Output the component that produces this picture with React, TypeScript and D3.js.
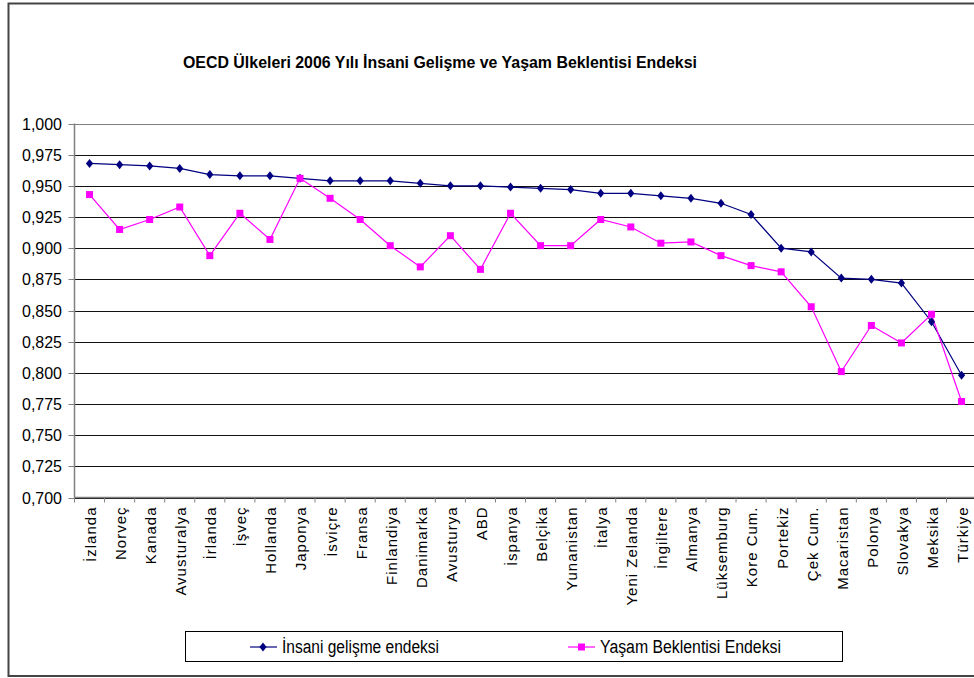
import React from "react";
import * as d3 from "d3";

const categories = [
  "İzlanda", "Norveç", "Kanada", "Avusturalya", "İrlanda", "İşveç", "Hollanda", "Japonya",
  "İsviçre", "Fransa", "Finlandiya", "Danimarka", "Avusturya", "ABD", "İspanya", "Belçika",
  "Yunanistan", "İtalya", "Yeni Zelanda", "İngiltere", "Almanya", "Lüksemburg", "Kore Cum.",
  "Portekiz", "Çek Cum.", "Macaristan", "Polonya", "Slovakya", "Meksika", "Türkiye",
];

const hdi = [
  0.968, 0.967, 0.966, 0.964, 0.959, 0.958, 0.958, 0.956, 0.954, 0.954, 0.954, 0.952, 0.950,
  0.950, 0.949, 0.948, 0.947, 0.944, 0.944, 0.942, 0.940, 0.936, 0.927, 0.900, 0.897, 0.876,
  0.875, 0.872, 0.841, 0.798,
];

const lifeExp = [
  0.943, 0.915, 0.923, 0.933, 0.894, 0.928, 0.907, 0.956, 0.940, 0.923, 0.902, 0.885, 0.910,
  0.883, 0.928, 0.902, 0.902, 0.923, 0.917, 0.904, 0.905, 0.894, 0.886, 0.881, 0.853, 0.801,
  0.838, 0.824, 0.847, 0.777,
];

const yTicks = [0.7, 0.725, 0.75, 0.775, 0.8, 0.825, 0.85, 0.875, 0.9, 0.925, 0.95, 0.975, 1.0];

const title = "OECD Ülkeleri 2006 Yılı İnsani Gelişme ve Yaşam Beklentisi Endeksi";
const seriesNames = ["İnsani gelişme endeksi", "Yaşam Beklentisi Endeksi"];

const W = 974;
const H = 678;
const left = 74.5;
const bandW = 30.07;
const top = 123.5;
const bottom = 497.5;
const font = "Liberation Sans, Arial, sans-serif";
const blue = "#000080";
const pink = "#FF00FF";

const diamond = "M0,-4.5L3.6,0L0,4.5L-3.6,0Z";

export default function App() {
  const x = d3
    .scaleBand<string>()
    .domain(categories)
    .range([left, left + bandW * categories.length]);
  const y = d3.scaleLinear().domain([0.7, 1.0]).range([bottom, top]);
  const cx = (c: string) => (x(c) as number) + x.bandwidth() / 2;
  const fmt = (v: number) => d3.format(".3f")(v).replace(".", ",");

  const line = d3
    .line<number>()
    .x((_, i) => cx(categories[i]))
    .y((v) => y(v));

  const boundaries = d3.range(categories.length + 1).map((i) => left + i * x.bandwidth());

  return (
    <svg
      width={W}
      height={H}
      style={{ position: "absolute", left: 0, top: 0, background: "#fff" }}
      fontFamily={font}
    >
      <rect x={0} y={0} width={W} height={H} fill="#fff" />
      <rect x={8.5} y={3.5} width={990} height={672.5} fill="none" stroke="#444" strokeWidth={2} />

      <text
        x={440}
        y={68}
        textAnchor="middle"
        fontSize={17}
        fontWeight="bold"
        textLength={514}
        lengthAdjust="spacingAndGlyphs"
      >
        {title}
      </text>

      {/* gridlines */}
      {yTicks.map((t) => (
        <line
          key={"g" + t}
          x1={left}
          x2={W + 5}
          y1={Math.round(y(t)) + 0.5}
          y2={Math.round(y(t)) + 0.5}
          stroke={t === 1.0 ? "#808080" : "#111"}
          strokeWidth={1}
        />
      ))}

      {/* y axis */}
      <line x1={left} x2={left} y1={top} y2={bottom} stroke="#808080" strokeWidth={1.5} />
      {yTicks.map((t) => (
        <g key={"y" + t}>
          <line
            x1={left - 6}
            x2={left}
            y1={Math.round(y(t)) + 0.5}
            y2={Math.round(y(t)) + 0.5}
            stroke="#808080"
          />
          <text
            x={62}
            y={y(t)}
            dy="0.36em"
            textAnchor="end"
            fontSize={17}
            textLength={40}
            lengthAdjust="spacingAndGlyphs"
          >
            {fmt(t)}
          </text>
        </g>
      ))}

      {/* x axis */}
      <line x1={left} x2={W + 5} y1={bottom} y2={bottom} stroke="#808080" strokeWidth={1.5} />
      {boundaries.map((b, i) => (
        <line key={"xt" + i} x1={b} x2={b} y1={bottom} y2={bottom + 5} stroke="#808080" />
      ))}
      {categories.map((c) => (
        <text
          key={"xl" + c}
          transform={`translate(${cx(c) + 1},${bottom + 9}) rotate(-90)`}
          textAnchor="end"
          dy="0.36em"
          fontSize={15}
          letterSpacing={1}
        >
          {c}
        </text>
      ))}

      {/* series */}
      <path d={line(hdi) || ""} fill="none" stroke={blue} strokeWidth={1.2} />
      <path d={line(lifeExp) || ""} fill="none" stroke={pink} strokeWidth={1.2} />
      {hdi.map((v, i) => (
        <path
          key={"d" + i}
          d={diamond}
          transform={`translate(${cx(categories[i])},${y(v)})`}
          fill={blue}
        />
      ))}
      {lifeExp.map((v, i) => (
        <rect
          key={"s" + i}
          x={cx(categories[i]) - 3.5}
          y={y(v) - 3.5}
          width={7}
          height={7}
          fill={pink}
        />
      ))}

      {/* legend */}
      <rect x={185.5} y={631.5} width={657} height={30} fill="#fff" stroke="#000" strokeWidth={1} />
      <line x1={250} x2={277} y1={647} y2={647} stroke={blue} strokeWidth={1.2} />
      <path d={diamond} transform="translate(263,647)" fill={blue} />
      <text
        x={282}
        y={653}
        fontSize={18}
        textLength={157}
        lengthAdjust="spacingAndGlyphs"
      >
        {seriesNames[0]}
      </text>
      <line x1={568} x2={595} y1={647} y2={647} stroke={pink} strokeWidth={1.2} />
      <rect x={578} y={643.5} width={7} height={7} fill={pink} />
      <text
        x={600}
        y={653}
        fontSize={18}
        textLength={181}
        lengthAdjust="spacingAndGlyphs"
      >
        {seriesNames[1]}
      </text>
    </svg>
  );
}
